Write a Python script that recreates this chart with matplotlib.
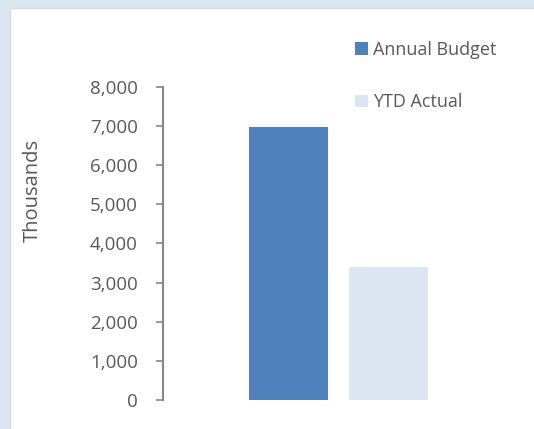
import matplotlib
matplotlib.use("Agg")
import matplotlib.pyplot as plt
from matplotlib.patches import Rectangle
from matplotlib.ticker import FuncFormatter

series = ["Annual Budget", "YTD Actual"]
values = [6980, 3400]
colors = ["#4F81BD", "#DCE6F2"]
y_ticks = [0, 1000, 2000, 3000, 4000, 5000, 6000, 7000, 8000]

W, H = 534, 429
plt.rcParams["font.family"] = ["Open Sans", "DejaVu Sans"]
text_col = "#595959"

fig = plt.figure(figsize=(W / 100, H / 100), dpi=100)
fig.patch.set_facecolor("#DCE6F2")
# white chart area with thin grey border
fig.patches.append(Rectangle((10 / W, -0.01), 1.0, 421 / H + 0.01,
                             transform=fig.transFigure, facecolor="white",
                             edgecolor="#D9D9D9", linewidth=1.0, zorder=-5))

ax = fig.add_axes([163 / W, (H - 400) / H, (514 - 163) / W, (400 - 87) / H])
ax.set_facecolor("none")
ax.set_zorder(2)

bar_w = 1.0
offset = 50 / 79  # half of bar + gap, in bar units
positions = [-offset, offset]
for pos, val, col, name in zip(positions, values, colors, series):
    ax.bar(pos, val, width=bar_w, color=col, label=name)

span = (514 - 163) / 2 / 79
ax.set_xlim(-span, span)
ax.set_ylim(0, 8000)
ax.set_yticks(y_ticks)
ax.yaxis.set_major_formatter(FuncFormatter(lambda v, p: f"{int(v):,}"))
ax.set_xticks([])

for s in ["top", "right", "bottom"]:
    ax.spines[s].set_visible(False)
ax.spines["left"].set_color("#868686")
ax.spines["left"].set_linewidth(1.5)
ax.tick_params(axis="y", direction="out", length=5, width=1.2, color="#868686",
               labelcolor=text_col, labelsize=13.5, pad=13)

# axis title sits higher than the axes centre in the original
fig.text(33 / W, 1 - 190 / H, "Thousands", rotation=90, ha="center", va="center",
         fontsize=14.5, color=text_col)

leg = fig.legend(loc="upper left", bbox_to_anchor=(355 / W, 1 - 41 / H),
                 frameon=False, fontsize=13, labelspacing=1.9,
                 handlelength=0.7, handleheight=0.7, handletextpad=0.3,
                 borderaxespad=0, borderpad=0)
leg.set_zorder(3)
for t in leg.get_texts():
    t.set_color(text_col)

fig.savefig("out.png", dpi=100)
